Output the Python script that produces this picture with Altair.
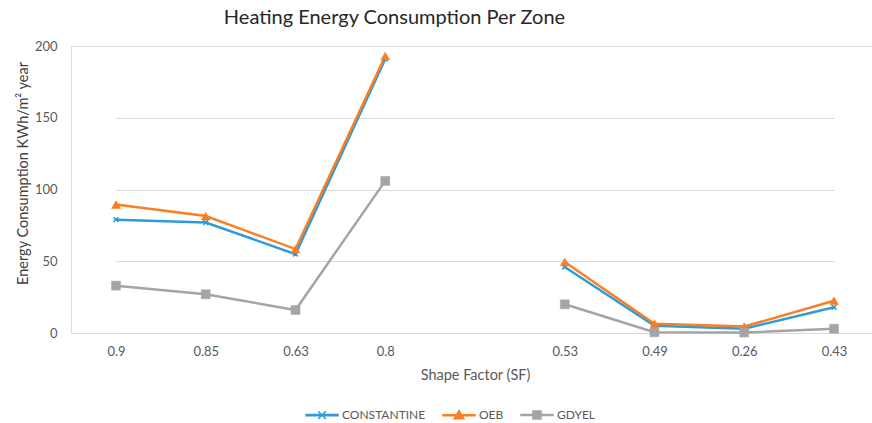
import altair as alt
import pandas as pd

# Shape factor categories along the x axis (the blank one separates the two zone groups)
categories = ["0.9", "0.85", "0.63", "0.8", "", "0.53", "0.49", "0.26", "0.43"]
series = ["CONSTANTINE", "OEB", "GDYEL"]

# Heating energy consumption, kWh/m² per year
constantine = [79, 77, 55, 191, None, 46, 5, 3, 18]
oeb = [89.5, 81.5, 58.5, 193, None, 49.5, 6.5, 4.5, 22.5]
gdyel = [33, 27, 16, 106, None, 20, 0.5, 0.3, 3]

colors = ["#2E9BDA", "#F97F22", "#A5A5A5"]
FONT = "Lato"

rows = []
for name, vals in zip(series, [constantine, oeb, gdyel]):
    for i, (cat, v) in enumerate(zip(categories, vals)):
        if v is None:
            continue
        rows.append({"cat": cat, "series": name, "value": v, "seg": 0 if i < 4 else 1})
df = pd.DataFrame(rows)

# Marker glyphs on the lines
markers = {
    "CONSTANTINE": "M-0.6,-0.6L0.6,0.6M-0.6,0.6L0.6,-0.6",
    "OEB": "triangle-up",
    "GDYEL": "square",
}
# Legend glyphs: a short line segment with the series marker on it
bar = "M-1,-0.035H1V0.035H-1Z "
legend_paths = [
    bar + "M-0.24,-0.24L0.24,0.24M-0.24,0.24L0.24,-0.24",
    bar + "M0,-0.3L0.3,0.22L-0.3,0.22Z",
    bar + "M-0.25,-0.25H0.25V0.25H-0.25Z",
]

x_enc = alt.X(
    "cat:N",
    scale=alt.Scale(type="point", domain=categories, range=[45, 763], padding=0),
    axis=alt.Axis(
        title="Shape Factor (SF)", labelAngle=0, ticks=False, domain=False, grid=False,
        labelPadding=12, titlePadding=10, labelFontSize=13, labelColor="#595959",
        labelFont=FONT, titleFont=FONT, titleFontSize=14.5, titleFontWeight="normal",
        titleColor="#595959",
    ),
)
y_enc = alt.Y(
    "value:Q",
    scale=alt.Scale(domain=[0, 200]),
    axis=alt.Axis(
        values=[0, 50, 100, 150, 200], grid=True, gridColor="#D9D9D9", domain=False,
        ticks=False, labelPadding=14, labelFontSize=13, labelColor="#595959",
        labelFont=FONT, title="Energy Consumption KWh/m² year", titleFont=FONT,
        titleFontSize=14.5, titleFontWeight="normal", titleColor="#404040",
        titleX=-48, titleY=127, titleAlign="center", titleBaseline="middle",
    ),
)

base = alt.Chart(df)

lines = base.mark_line(strokeWidth=2.5).encode(
    x=x_enc,
    y=y_enc,
    color=alt.Color("series:N", scale=alt.Scale(domain=series, range=colors), legend=None),
    detail="seg:N",
)

point_layers = []
for name, col in zip(series, colors):
    is_x = name == "CONSTANTINE"
    point_layers.append(
        base.transform_filter(alt.datum.series == name)
        .mark_point(
            shape=markers[name], filled=True, fill=col, stroke=col,
            strokeWidth=1.6 if is_x else 0.5, size=64 if is_x else 80, opacity=1,
        )
        .encode(x=x_enc, y=y_enc)
    )

leg = alt.Legend(
    title=None, orient="none", legendX=234, legendY=352, direction="horizontal",
    labelFont=FONT, labelFontSize=12, labelColor="#595959", labelOffset=3,
    columnPadding=14, symbolSize=1024, symbolStrokeWidth=1.5,
)
# Points hidden under the markers; they carry the legend
legend_layer = base.mark_point(filled=True, opacity=1, size=1).encode(
    x=x_enc,
    y=y_enc,
    shape=alt.Shape("series:N", scale=alt.Scale(domain=series, range=legend_paths), legend=leg),
    fill=alt.Fill("series:N", scale=alt.Scale(domain=series, range=colors), legend=leg),
    stroke=alt.Stroke("series:N", scale=alt.Scale(domain=series, range=colors), legend=leg),
)

chart = (
    alt.layer(legend_layer, lines, *point_layers)
    .properties(
        width=801,
        height=287,
        title=alt.TitleParams(
            "Heating Energy Consumption Per Zone", font=FONT, fontSize=20,
            fontWeight="normal", color="#262626", anchor="middle", dx=-77, offset=12,
        ),
        autosize=alt.AutoSizeParams(type="none"),
        padding={"left": 71, "top": 46, "right": 0, "bottom": 90},
    )
    .configure_view(stroke=None)
    .configure(background="white")
)

chart.save("out.html", embed_options={"renderer": "svg", "actions": False})
